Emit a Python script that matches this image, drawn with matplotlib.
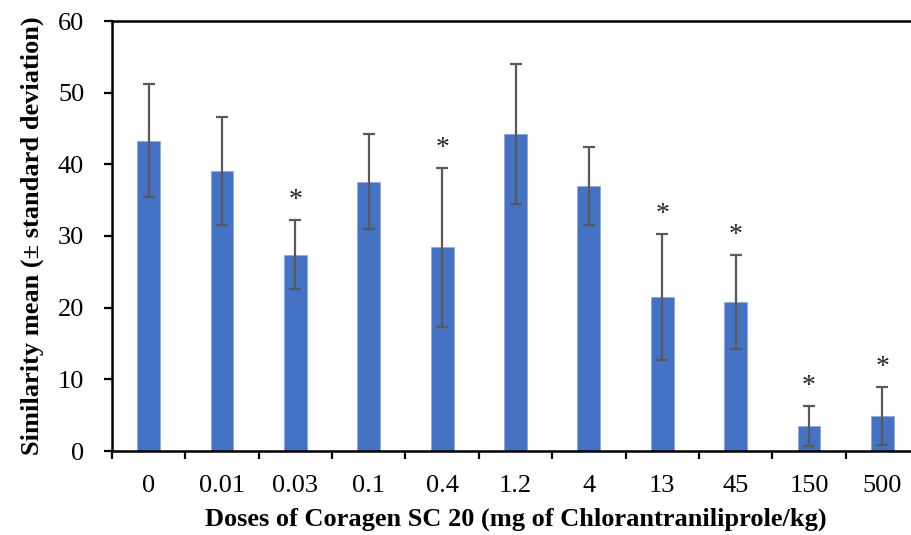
import matplotlib
matplotlib.use("Agg")
import matplotlib.pyplot as plt
import numpy as np

doses = ["0", "0.01", "0.03", "0.1", "0.4", "1.2", "4", "13", "45", "150", "500"]
means = [43.3, 39.1, 27.4, 37.6, 28.4, 44.2, 37.0, 21.5, 20.8, 3.5, 4.9]
sds = [7.9, 7.5, 4.8, 6.6, 11.1, 9.8, 5.4, 8.8, 6.6, 2.8, 4.0]
significant = [False, False, True, False, True, False, False, True, True, True, True]

plt.rcParams['font.family'] = ['Liberation Serif', 'DejaVu Serif']

fig = plt.figure(figsize=(9.11, 5.35), dpi=100)
ax = fig.add_axes([112/911, (535-451)/535, 807/911, 430/535])

x = np.arange(len(doses))
ax.bar(x, means, width=0.31, color="#4472C4", edgecolor="#8FAADC", linewidth=0.6, zorder=2)
ax.errorbar(x, means, yerr=sds, fmt="none", ecolor="#595959", elinewidth=1.6,
            capsize=4.5, capthick=1.6, zorder=3)
for xi, m, s, sig in zip(x, means, sds, significant):
    if sig:
        ax.annotate("*", (xi, m + s), xytext=(0, 5), textcoords="offset points",
                    ha="center", va="bottom", fontsize=20, color="#222222")

ax.set_xlim(-0.5, len(doses) - 0.5)
ax.set_ylim(0, 60)
ax.set_yticks(range(0, 61, 10))
ax.set_xticks(x)
ax.set_xticklabels(doses)
ax.set_xticks(np.arange(-0.5, len(doses), 1), minor=True)
ax.tick_params(axis="x", which="major", length=0, labelsize=19, pad=17)
ax.tick_params(axis="x", which="minor", length=6, width=1.6, direction="out")
ax.tick_params(axis="y", length=6, width=1.6, direction="out", labelsize=19, pad=14)

for side in ["left", "bottom", "top"]:
    ax.spines[side].set_linewidth(1.8)
    ax.spines[side].set_color("black")
ax.spines["right"].set_visible(False)

ax.set_xlabel("Doses of Coragen SC 20 (mg of Chlorantraniliprole/kg)", fontsize=19,
              fontweight="bold", labelpad=8)
ax.set_ylabel("Similarity mean (± standard deviation)", fontsize=19, fontweight="bold",
              labelpad=10)

fig.savefig("out.png", dpi=100)
